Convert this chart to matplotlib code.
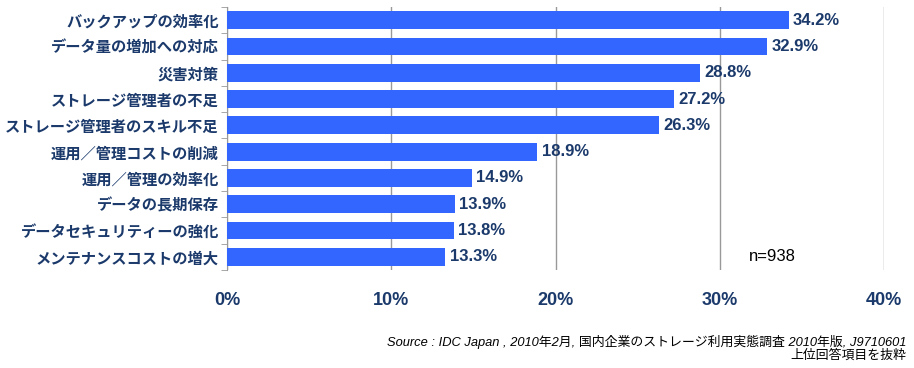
import numpy as np
import matplotlib
matplotlib.use("Agg")
import matplotlib.pyplot as plt

plt.rcParams['font.family'] = ['Noto Sans CJK JP', 'DejaVu Sans']

# data
categories = ['バックアップの効率化', 'データ量の増加への対応', '災害対策', 'ストレージ管理者の不足',
              'ストレージ管理者のスキル不足', '運用／管理コストの削減', '運用／管理の効率化',
              'データの長期保存', 'データセキュリティーの強化', 'メンテナンスコストの増大']
values = [34.2, 32.9, 28.8, 27.2, 26.3, 18.9, 14.9, 13.9, 13.8, 13.3]
xticks = [0, 10, 20, 30, 40]
xticklabels = ['0%', '10%', '20%', '30%', '40%']
sample_note = 'n=938'
source_lines = ['Source : IDC Japan , 2010年2月, 国内企業のストレージ利用実態調査 2010年版, J9710601',
                '上位回答項目を抜粋']

navy = '#1b3a6b'
bar_color = '#3366ff'
latin = ['Liberation Sans', 'Noto Sans CJK JP']

fig = plt.figure(figsize=(9.14, 3.68), dpi=100)
ax = fig.add_axes([0.2484, 0.2663, 0.7188, 0.7147])

y = np.arange(len(categories))
ax.barh(y, values, height=0.68, color=bar_color, zorder=3)
for yi, v in zip(y, values):
    ax.text(v + 0.25, yi, f'{v:.1f}%', va='center', ha='left', fontsize=12,
            fontweight='bold', color=navy, family=latin, zorder=4)

ax.set_ylim(len(categories) - 0.5, -0.5)
ax.set_xlim(0, 40)
ax.set_yticks(y)
ax.set_yticklabels(categories, fontsize=11, fontweight='bold', color=navy)
ax.set_yticks(np.arange(len(categories) + 1) - 0.5, minor=True)
ax.tick_params(axis='y', which='major', length=0, pad=6)
ax.tick_params(axis='y', which='minor', length=4, color='#999999')

ax.set_xticks(xticks)
ax.set_xticklabels(xticklabels, fontsize=13, fontweight='bold', color=navy,
                   family=latin)
ax.tick_params(axis='x', length=0, pad=16)
ax.grid(axis='x', color='#999999', linewidth=1, zorder=0)

for s in ['top', 'right', 'bottom']:
    ax.spines[s].set_visible(False)
ax.spines['left'].set_color('#999999')

ax.text(33.2, 9.0, sample_note, fontsize=12, ha='center', va='center',
        family=latin, color='black')

fig.text(0.992, 0.0707, source_lines[0], ha='right', va='center',
         fontsize=9.3, style='italic', color='black', family=latin)
fig.text(0.992, 0.0326, source_lines[1], ha='right', va='center',
         fontsize=9.3, style='italic', color='black', family=latin)

fig.savefig('out.png', dpi=100)
